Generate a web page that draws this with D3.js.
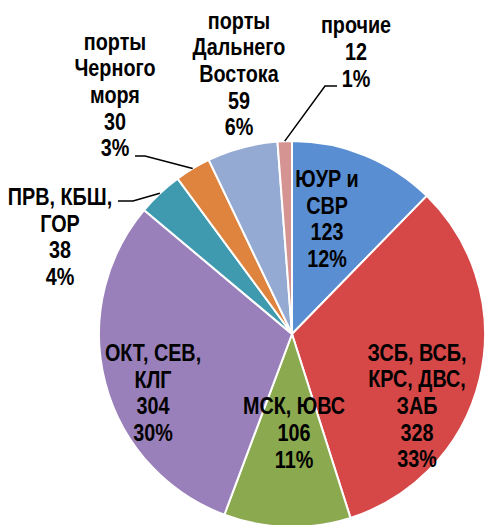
<!DOCTYPE html>
<html>
<head>
<meta charset="utf-8">
<script src="https://cdn.jsdelivr.net/npm/d3@7"></script>
<style>
  body { margin: 0; background: #fff; }
  text { font-family: "Liberation Sans", Arial, sans-serif; font-weight: bold; }
</style>
</head>
<body>
<div id="chart"></div>
<script>
// data
const names = [["ЮУР и", "СВР"], ["ЗСБ, ВСБ,", "КРС, ДВС,", "ЗАБ"], ["МСК, ЮВС"], ["ОКТ, СЕВ,", "КЛГ"],
  ["ПРВ, КБШ,", "ГОР"], ["порты", "Черного", "моря"], ["порты", "Дальнего", "Востока"], ["прочие"]];
const values = [123, 328, 106, 304, 38, 30, 59, 12];
const percents = ["12%", "33%", "11%", "30%", "4%", "3%", "6%", "1%"];
const colors = ["#5a8ed2", "#d64848", "#8ba94f", "#9a80ba", "#3f9aaf", "#de843e", "#95aad2", "#d59392"];

let width = 485, height = 525,
    cx = 292, cy = 334, radius = 193,
    fontSize = 23, lineH = 26.7, squeeze = 0.86;

// label block centres (relative to pie centre) and leader line elbows
const labelPos = [[35, -115], [125, 72], [2, 99], [-139, 59], [-232, -97], [-177, -239], [-53, -260], [64, -282]];
const leaders = {4: [[-159, -133], [-174, -133]], 5: [[-147, -178], [-157, -178]], 7: [[33, -248], [45, -248]]};

let svg = d3.select("#chart").append("svg")
    .attr("width", width)
    .attr("height", height);

let g = svg.append("g").attr("transform", `translate(${cx},${cy})`);

let pie = d3.pie().sort(null).value(d => d);
let arcs = pie(values);

let arc = d3.arc().innerRadius(0).outerRadius(radius);

g.selectAll("path.slice")
    .data(arcs)
    .join("path")
    .attr("class", "slice")
    .attr("fill", (d, i) => colors[i])
    .attr("stroke", "#fff")
    .attr("stroke-width", 2)
    .attr("d", arc);

// leader lines
Object.keys(leaders).forEach(k => {
  let a = arcs[k];
  let mid = (a.startAngle + a.endAngle) / 2;
  let start = [radius * Math.sin(mid), -radius * Math.cos(mid)];
  let pts = [start].concat(leaders[k]);
  g.append("path")
      .attr("d", d3.line()(pts))
      .attr("fill", "none")
      .attr("stroke", "#000")
      .attr("stroke-width", 1.5);
});

// labels (narrow look: squeeze horizontally)
arcs.forEach((a, i) => {
  let lines = names[i].concat([String(values[i]), percents[i]]);
  let [lx, ly] = labelPos[i];
  let top = ly - (lines.length - 1) * lineH / 2;
  let t = g.append("text")
      .attr("transform", `translate(${lx},0) scale(${squeeze},1)`)
      .attr("text-anchor", "middle")
      .attr("font-size", fontSize)
      .attr("fill", "#000");
  lines.forEach((s, j) => {
    t.append("tspan")
        .attr("x", 0)
        .attr("y", top + j * lineH)
        .attr("dy", "0.35em")
        .text(s);
  });
});
</script>
</body>
</html>
